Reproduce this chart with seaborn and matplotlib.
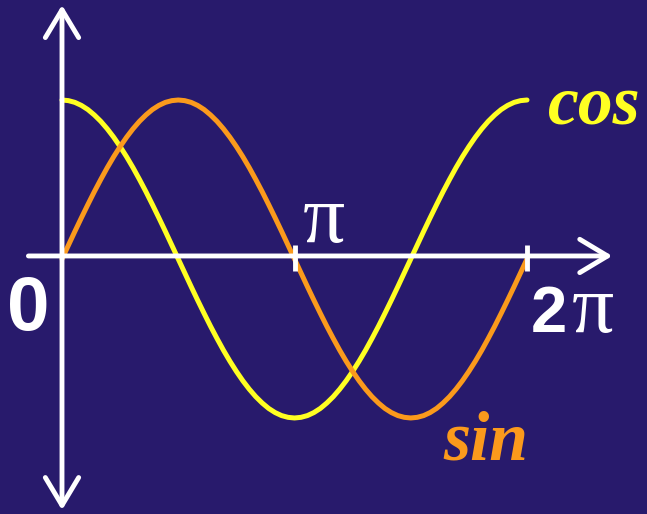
import pandas as pd
import seaborn as sns
import matplotlib.pyplot as plt

# angle along the x axis, degrees (0 .. 2pi)
angle_deg = [0, 5, 10, 15, 20, 25, 30, 35, 40, 45, 50, 55, 60, 65, 70, 75, 80, 85, 90,
             95, 100, 105, 110, 115, 120, 125, 130, 135, 140, 145, 150, 155, 160, 165, 170, 175, 180,
             185, 190, 195, 200, 205, 210, 215, 220, 225, 230, 235, 240, 245, 250, 255, 260, 265, 270,
             275, 280, 285, 290, 295, 300, 305, 310, 315, 320, 325, 330, 335, 340, 345, 350, 355, 360]
sin_vals = [0, 0.087, 0.174, 0.259, 0.342, 0.423, 0.5, 0.574, 0.643, 0.707, 0.766, 0.819, 0.866, 0.906, 0.94, 0.966, 0.985, 0.996, 1,
            0.996, 0.985, 0.966, 0.94, 0.906, 0.866, 0.819, 0.766, 0.707, 0.643, 0.574, 0.5, 0.423, 0.342, 0.259, 0.174, 0.087, 0,
            -0.087, -0.174, -0.259, -0.342, -0.423, -0.5, -0.574, -0.643, -0.707, -0.766, -0.819, -0.866, -0.906, -0.94, -0.966, -0.985, -0.996, -1,
            -0.996, -0.985, -0.966, -0.94, -0.906, -0.866, -0.819, -0.766, -0.707, -0.643, -0.574, -0.5, -0.423, -0.342, -0.259, -0.174, -0.087, 0]
cos_vals = [1, 0.996, 0.985, 0.966, 0.94, 0.906, 0.866, 0.819, 0.766, 0.707, 0.643, 0.574, 0.5, 0.423, 0.342, 0.259, 0.174, 0.087, 0,
            -0.087, -0.174, -0.259, -0.342, -0.423, -0.5, -0.574, -0.643, -0.707, -0.766, -0.819, -0.866, -0.906, -0.94, -0.966, -0.985, -0.996, -1,
            -0.996, -0.985, -0.966, -0.94, -0.906, -0.866, -0.819, -0.766, -0.707, -0.643, -0.574, -0.5, -0.423, -0.342, -0.259, -0.174, -0.087, 0,
            0.087, 0.174, 0.259, 0.342, 0.423, 0.5, 0.574, 0.643, 0.707, 0.766, 0.819, 0.866, 0.906, 0.94, 0.966, 0.985, 0.996, 1]
tick_deg = [180, 360]

bg = "#281a6c"
yellow = "#ffff22"
orange = "#fb9a1c"

sns.set_style("white")
plt.rcParams["font.family"] = ["Liberation Sans", "DejaVu Sans"]

df = pd.concat([
    pd.DataFrame({"angle": angle_deg, "value": cos_vals, "func": "cos"}),
    pd.DataFrame({"angle": angle_deg, "value": sin_vals, "func": "sin"}),
])

fig = plt.figure(figsize=(6.47, 5.14), dpi=100, facecolor=bg)
ax = fig.add_axes([0, 0, 1, 1], facecolor=bg)

sns.lineplot(data=df, x="angle", y="value", hue="func", palette={"cos": yellow, "sin": orange},
             linewidth=3.6, legend=False, sort=False, ax=ax, zorder=2)

# axes with open arrow heads
arrow = dict(arrowstyle="<->,head_length=1.0,head_width=0.6", color="white", lw=3.5,
             shrinkA=0, shrinkB=0, mutation_scale=20)
ax.annotate("", xy=(0, 1.597), xytext=(0, -1.579), arrowprops=arrow, zorder=3)
arrow_x = dict(arrow, arrowstyle="->,head_length=1.0,head_width=0.6")
ax.annotate("", xy=(426, 0.019), xytext=(-26, 0.019), arrowprops=arrow_x, zorder=3)
ax.vlines(tick_deg, -0.075, 0.088, color="white", lw=3.5, zorder=3)

# labels
ax.text(-26.3, -0.447, "0", color="white", fontsize=55, fontweight="bold", ha="center", va="baseline")
ax.text(203, 0.107, "π", color="white", fontsize=60, family="Liberation Serif", ha="center", va="baseline")
ax.text(377, -0.459, "2", color="white", fontsize=47, fontweight="bold", ha="center", va="baseline")
ax.text(411, -0.459, "π", color="white", fontsize=60, family="Liberation Serif", ha="center", va="baseline")
ax.text(376, 0.855, "cos", color=yellow, fontsize=50, family="Liberation Serif", fontweight="bold",
        style="italic", ha="left", va="baseline")
ax.text(295, -1.264, "sin", color=orange, fontsize=50, family="Liberation Serif", fontweight="bold",
        style="italic", ha="left", va="baseline")

ax.set_xlim(-48.0, 452.9)
ax.set_ylim(-1.604, 1.629)
ax.set_axis_off()

fig.savefig("out.png", dpi=100, facecolor=bg)
